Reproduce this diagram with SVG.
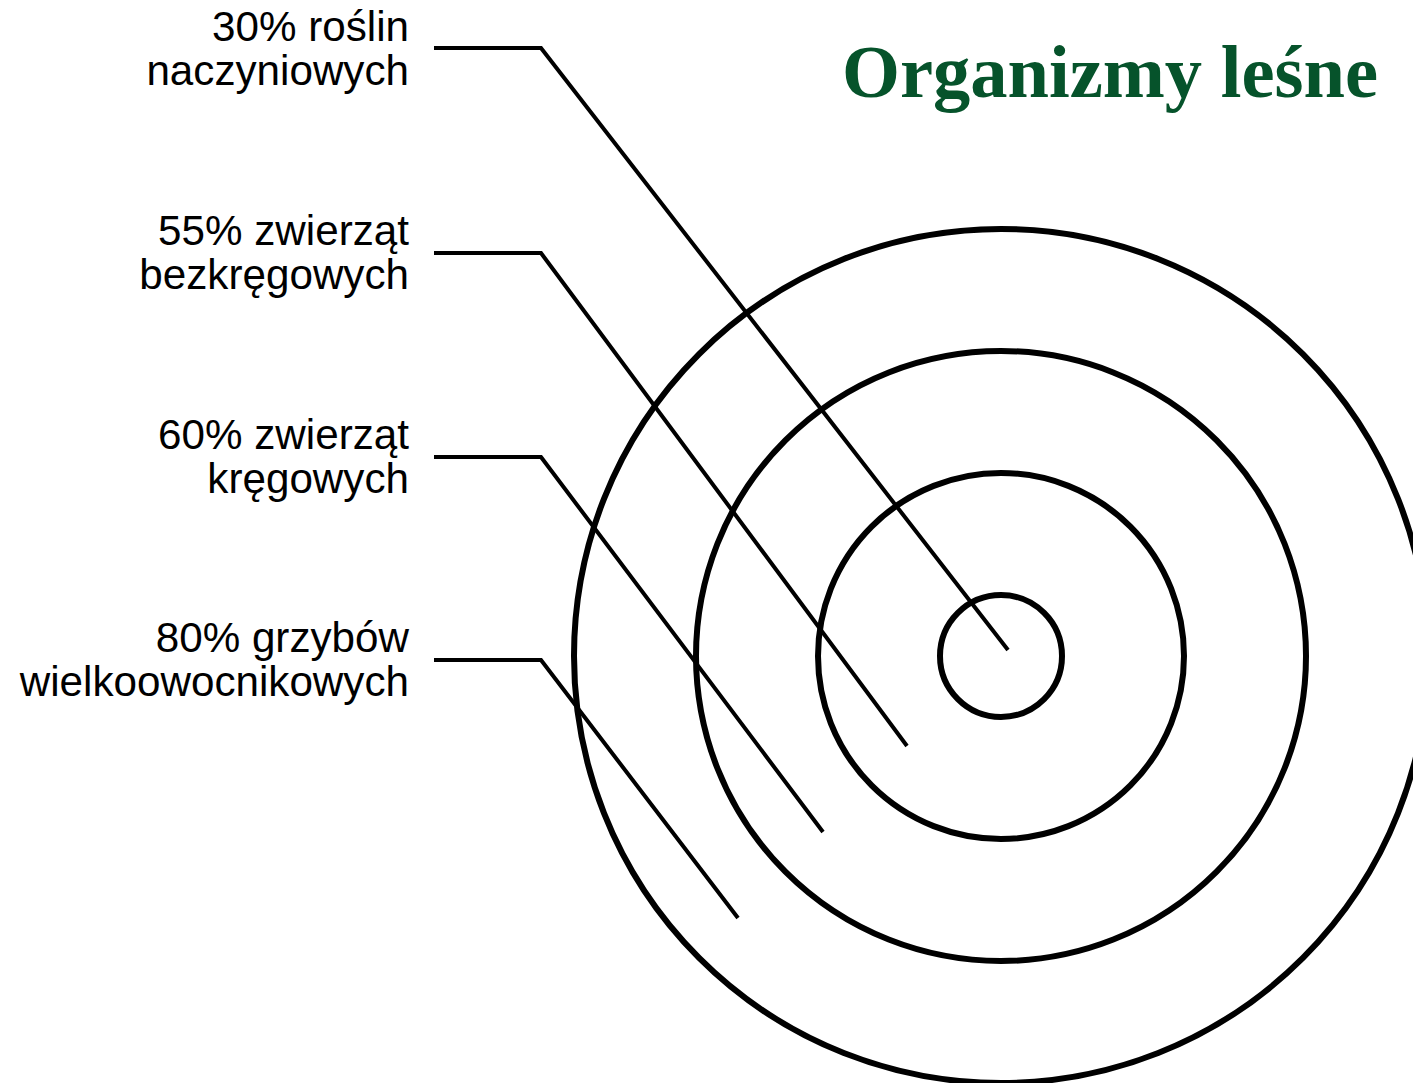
<svg xmlns="http://www.w3.org/2000/svg" width="1413" height="1083" viewBox="0 0 1413 1083">
<style>
.ring{fill:none;stroke:#000;stroke-width:6}
.con{fill:none;stroke:#000;stroke-width:4;stroke-linejoin:miter}
.lbl{font-family:"Liberation Sans",Arial,sans-serif;font-size:42.2px;fill:#000;text-anchor:end}
.title{font-family:"Liberation Serif","Times New Roman",serif;font-size:74.5px;font-weight:bold;fill:#06532b;text-anchor:end}
</style>
<rect width="1413" height="1083" fill="#fff"/>
<g id="title"><text class="title" x="1378" y="97">Organizmy leśne</text></g>
<g id="rings">
<circle id="ring1" class="ring" cx="1001" cy="656" r="61"/>
<circle id="ring2" class="ring" cx="1001" cy="656" r="183"/>
<circle id="ring3" class="ring" cx="1001" cy="656" r="305"/>
<circle id="ring4" class="ring" cx="1001" cy="656" r="427"/>
</g>
<g id="label1"><text class="lbl" x="409" y="41">30% roślin</text><text class="lbl" x="409" y="85">naczyniowych</text></g>
<g id="label2"><text class="lbl" x="409" y="245">55% zwierząt</text><text class="lbl" x="409" y="289">bezkręgowych</text></g>
<g id="label3"><text class="lbl" x="409" y="449">60% zwierząt</text><text class="lbl" x="409" y="493">kręgowych</text></g>
<g id="label4"><text class="lbl" x="409" y="652">80% grzybów</text><text class="lbl" x="409" y="696">wielkoowocnikowych</text></g>
<g id="connectors">
<polyline class="con" points="434,48 541,48 1008,650"/>
<polyline class="con" points="434,253 541,253 907,746"/>
<polyline class="con" points="434,457 541,457 823,832"/>
<polyline class="con" points="434,660 541,660 738,918"/>
</g>
</svg>
